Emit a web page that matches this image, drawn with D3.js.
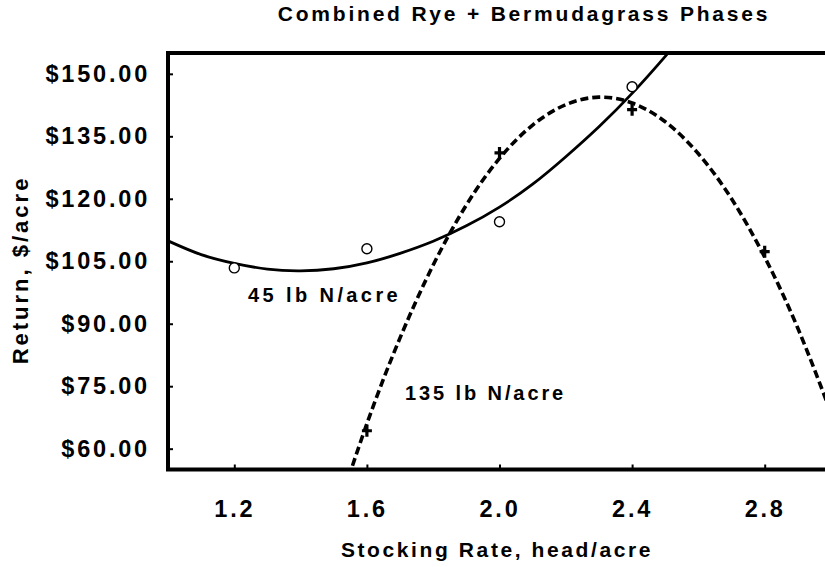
<!DOCTYPE html>
<html>
<head>
<meta charset="utf-8">
<script src="https://cdn.jsdelivr.net/npm/d3@7"></script>
<style>
  body { margin: 0; background: #fff; }
  text { font-family: "Liberation Sans", Arial, sans-serif; font-weight: bold; fill: #000; }
</style>
</head>
<body>
<div id="chart_area"></div>
<script>
// observed points (stocking rate, $/acre)
var rate45 = [1.2, 1.6, 2.0, 2.4];
var return45 = [103.4, 108.0, 114.5, 146.9];
var rate135 = [1.6, 2.0, 2.4, 2.8];
var return135 = [64.3, 131.0, 141.4, 107.3];

// fitted curves
var fit45X = [1.0, 1.1, 1.2, 1.3, 1.4, 1.5, 1.6, 1.7, 1.8, 1.9, 2.0, 2.1, 2.2, 2.3, 2.4, 2.5, 2.55];
var fit45Y = [109.9, 106.6, 104.5, 103.1, 102.7, 103.2, 104.6, 106.9, 109.8, 113.5, 118.0, 123.5, 130.1, 137.3, 145.3, 154.2, 159.0];
var fit135X = [1.5, 1.6, 1.7, 1.8, 1.9, 2.0, 2.1, 2.2, 2.3, 2.4, 2.5, 2.6, 2.7, 2.8, 2.9, 3.0];
var fit135Y = [42.2, 66.0, 86.6, 104.1, 118.5, 129.7, 137.7, 142.6, 144.4, 143.0, 138.5, 130.8, 120.0, 106.0, 88.9, 68.6];

// tick labels
var xTicks = [1.2, 1.6, 2.0, 2.4, 2.8];
var yTicks = [60, 75, 90, 105, 120, 135, 150];

var width = 825;
var height = 567;
var plot = {left: 168, right: 831, top: 53, bottom: 469.5};

var svg = d3.select("#chart_area")
    .append("svg")
    .attr("width", width)
    .attr("height", height);

var x = d3.scaleLinear()
    .domain([1.0, 3.0])
    .range([plot.left, plot.right]);

var y = d3.scaleLinear()
    .domain([55, 155])
    .range([plot.bottom, plot.top]);

svg.append("clipPath")
    .attr("id", "plotclip")
    .append("rect")
    .attr("x", plot.left)
    .attr("y", plot.top)
    .attr("width", plot.right - plot.left)
    .attr("height", plot.bottom - plot.top);

// title
svg.append("text")
    .attr("x", 524)
    .attr("y", 21)
    .attr("text-anchor", "middle")
    .attr("font-size", 21)
    .attr("letter-spacing", 2.8)
    .text("Combined Rye + Bermudagrass Phases");

// axes
var xAxis = svg.append("g")
    .attr("transform", "translate(0," + plot.bottom + ")")
    .call(d3.axisBottom(x).tickValues(xTicks).tickFormat(d3.format(".1f"))
        .tickSize(-5).tickSizeOuter(0).tickPadding(31));

var yAxis = svg.append("g")
    .attr("transform", "translate(" + plot.left + ",0)")
    .call(d3.axisLeft(y).tickValues(yTicks).tickFormat(d3.format("$.2f"))
        .tickSize(-5).tickSizeOuter(0).tickPadding(18));

[xAxis, yAxis].forEach(function(a) {
    a.select(".domain").remove();
    a.selectAll(".tick line").attr("stroke", "#000").attr("stroke-width", 2);
    a.selectAll(".tick text")
        .attr("font-size", 23.5)
        .attr("letter-spacing", 2.8)
        .style("font-family", "'Liberation Sans', Arial, sans-serif")
        .style("font-weight", "bold");
});

// frame: left, bottom and top lines
svg.append("path")
    .attr("d", "M" + width + "," + plot.top + "H" + plot.left + "V" + plot.bottom + "H" + width)
    .attr("fill", "none")
    .attr("stroke", "#000")
    .attr("stroke-width", 4)
    .attr("stroke-linejoin", "miter");

// axis titles
svg.append("text")
    .attr("x", 497)
    .attr("y", 557)
    .attr("text-anchor", "middle")
    .attr("font-size", 21)
    .attr("letter-spacing", 2.6)
    .text("Stocking Rate, head/acre");

svg.append("text")
    .attr("transform", "translate(28,270) rotate(-90)")
    .attr("text-anchor", "middle")
    .attr("font-size", 22)
    .attr("letter-spacing", 3)
    .text("Return, $/acre");

// fitted lines
var line = d3.line()
    .x(function(d){ return x(d[0]) })
    .y(function(d){ return y(d[1]) })
    .curve(d3.curveNatural);

svg.append("path")
    .datum(d3.zip(fit45X, fit45Y))
    .attr("clip-path", "url(#plotclip)")
    .attr("d", line)
    .attr("fill", "none")
    .attr("stroke", "#000")
    .attr("stroke-width", 2.8);

svg.append("path")
    .datum(d3.zip(fit135X, fit135Y))
    .attr("clip-path", "url(#plotclip)")
    .attr("d", line)
    .attr("fill", "none")
    .attr("stroke", "#000")
    .attr("stroke-width", 3.6)
    .attr("stroke-dasharray", "8,4");

// open circles, 45 lb N
svg.selectAll("circle.n45")
    .data(d3.zip(rate45, return45))
    .enter()
    .append("circle")
    .attr("class", "n45")
    .attr("cx", function(d){ return x(d[0]) })
    .attr("cy", function(d){ return y(d[1]) })
    .attr("r", 5)
    .attr("fill", "#fff")
    .attr("stroke", "#000")
    .attr("stroke-width", 1.4);

// plus signs, 135 lb N
svg.selectAll("path.n135")
    .data(d3.zip(rate135, return135))
    .enter()
    .append("path")
    .attr("class", "n135")
    .attr("transform", function(d){ return "translate(" + x(d[0]) + "," + y(d[1]) + ")" })
    .attr("d", "M-5,0H5M0,-6V6")
    .attr("stroke", "#000")
    .attr("stroke-width", 3.2);

// curve labels
svg.append("text")
    .attr("x", 248)
    .attr("y", 302)
    .attr("font-size", 20)
    .attr("letter-spacing", 3.4)
    .text("45 lb N/acre");

svg.append("text")
    .attr("x", 405)
    .attr("y", 400)
    .attr("font-size", 20)
    .attr("letter-spacing", 2.9)
    .text("135 lb N/acre");
</script>
</body>
</html>
